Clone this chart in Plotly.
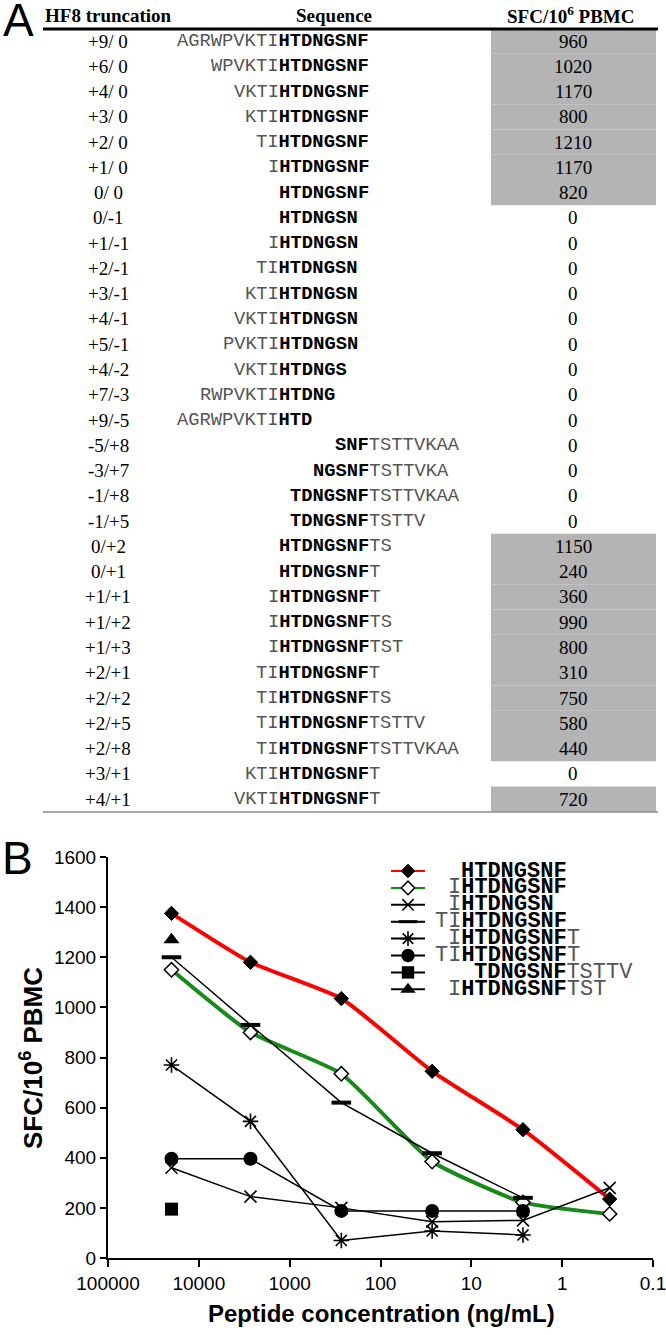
import plotly.graph_objects as go

W, H = 666, 1335

# ---------------- Panel A data ----------------
truncations = ["+9/ 0", "+6/ 0", "+4/ 0", "+3/ 0", "+2/ 0", "+1/ 0", "0/ 0", "0/-1", "+1/-1",
               "+2/-1", "+3/-1", "+4/-1", "+5/-1", "+4/-2", "+7/-3", "+9/-5", "-5/+8", "-3/+7",
               "-1/+8", "-1/+5", "0/+2", "0/+1", "+1/+1", "+1/+2", "+1/+3", "+2/+1", "+2/+2",
               "+2/+5", "+2/+8", "+3/+1", "+4/+1"]
seq_prefix = ["AGRWPVKTI", "WPVKTI", "VKTI", "KTI", "TI", "I", "", "", "I", "TI", "KTI", "VKTI",
              "PVKTI", "VKTI", "RWPVKTI", "AGRWPVKTI", "", "", "", "", "", "", "I", "I", "I",
              "TI", "TI", "TI", "TI", "KTI", "VKTI"]
seq_core = (["HTDNGSNF"] * 7 + ["HTDNGSN"] * 6 +
            ["HTDNGS", "HTDNG", "HTD", "SNF", "NGSNF", "TDNGSNF", "TDNGSNF"] +
            ["HTDNGSNF"] * 11)
seq_suffix = [""] * 16 + ["TSTTVKAA", "TSTTVKA", "TSTTVKAA", "TSTTV", "TS", "T", "T", "TS",
                          "TST", "T", "TS", "TSTTV", "TSTTVKAA", "T", "T"]
sfc = [960, 1020, 1170, 800, 1210, 1170, 820] + [0] * 13 + \
      [1150, 240, 360, 990, 800, 310, 750, 580, 440, 0, 720]

# ---------------- Panel B data ----------------
conc = [20000, 2700, 270, 27, 2.7, 0.3]
s_htdngsnf = [1375, 1180, 1035, 745, 512, 235]
s_ihtdngsnf = [1150, 900, 735, 385, 222, 176]
s_ihtdngsn = [360, 245, 200, 145, 150, 280]
s_tihtdngsnf = [1200, 930, 620, 418, 240]
s_ihtdngsnft = [770, 545, 70, 108, 92]
s_tihtdngsnft = [396, 396, 188, 188, 188]
s_tdngsnftsttv = [195]
s_ihtdngsnftst = [1270]

xtick_vals = [100000, 10000, 1000, 100, 10, 1, 0.1]
xtick_text = ["100000", "10000", "1000", "100", "10", "1", "0.1"]

CORE = "HTDNGSNF"
GRAY_TXT = "#555555"
MONO = "Liberation Mono"


def px(x):
    return x / W


def py(y):
    return 1 - y / H


def seq_html(pre, core, suf):
    t = ""
    if pre:
        t += f'<span style="color:{GRAY_TXT}">{pre}</span>'
    t += f"<b>{core}</b>"
    if suf:
        t += f'<span style="color:{GRAY_TXT}">{suf}</span>'
    return t


fig = go.Figure()
annotations = []
shapes = []

# ---------------- Panel A: table ----------------
row0, row_h = 41.0, 25.27
tbl_left, tbl_right = 43, 658
gray_l, gray_r = 491, 656
col_trunc, col_val = 108, 573
h_x = 278.0
fs_seq = 18.8
adv = 0.6 * fs_seq

annotations.append(dict(x=px(1), y=py(20), xref="paper", yref="paper", text="A",
                        showarrow=False, xanchor="left", yanchor="middle",
                        font=dict(family="Liberation Sans", size=46, color="black")))
hdr_font = dict(family="Liberation Serif", size=19, color="black")
annotations.append(dict(x=px(43), y=py(15), xref="paper", yref="paper",
                        text="<b>HF8 truncation</b>", showarrow=False, xanchor="left",
                        yanchor="middle", font=hdr_font))
annotations.append(dict(x=px(334), y=py(15), xref="paper", yref="paper",
                        text="<b>Sequence</b>", showarrow=False, xanchor="center",
                        yanchor="middle", font=hdr_font))
annotations.append(dict(x=px(571), y=py(15), xref="paper", yref="paper",
                        text="<b>SFC/10<sup>6</sup> PBMC</b>", showarrow=False,
                        xanchor="center", yanchor="middle", font=hdr_font))

shapes.append(dict(type="line", xref="paper", yref="paper", x0=px(tbl_left), x1=px(tbl_right),
                   y0=py(29), y1=py(29), line=dict(color="black", width=3)))
shapes.append(dict(type="line", xref="paper", yref="paper", x0=px(tbl_left), x1=px(tbl_right),
                   y0=py(812), y1=py(812), line=dict(color="#8a8a8a", width=1.5)))

for i, (tr, pre, core, suf, v) in enumerate(zip(truncations, seq_prefix, seq_core,
                                                 seq_suffix, sfc)):
    yc = row0 + i * row_h
    if v > 0:
        shapes.append(dict(type="rect", xref="paper", yref="paper", layer="below",
                           x0=px(gray_l), x1=px(gray_r),
                           y0=py(yc - row_h / 2), y1=py(yc + row_h / 2),
                           fillcolor="#b4b4b4", line=dict(width=0)))
    annotations.append(dict(x=px(col_trunc), y=py(yc), xref="paper", yref="paper", text=tr,
                            showarrow=False, xanchor="center", yanchor="middle",
                            font=dict(family="Liberation Serif", size=19, color="black")))
    off = CORE.find(core)
    x_left = h_x + (off - len(pre)) * adv
    annotations.append(dict(x=px(x_left), y=py(yc), xref="paper", yref="paper",
                            text=seq_html(pre, core, suf), showarrow=False,
                            xanchor="left", yanchor="middle", borderpad=0,
                            font=dict(family=MONO, size=fs_seq, color="black")))
    annotations.append(dict(x=px(col_val), y=py(yc), xref="paper", yref="paper", text=str(v),
                            showarrow=False, xanchor="center", yanchor="middle",
                            font=dict(family="Liberation Serif", size=19, color="black")))

# ---------------- Panel B: dose response ----------------
series = [
    ("", "HTDNGSNF", "", s_htdngsnf, "#ff0000", 4, "diamond", "black", 11, 1, "spline"),
    ("I", "HTDNGSNF", "", s_ihtdngsnf, "#178a17", 4, "diamond", "white", 11, 1.5, "spline"),
    ("I", "HTDNGSN", "", s_ihtdngsn, "black", 1.5, "x-thin", "black", 12, 1.6, "linear"),
    ("TI", "HTDNGSNF", "", s_tihtdngsnf, "black", 1.5, "line-ew", "black", 14, 4, "linear"),
    ("I", "HTDNGSNF", "T", s_ihtdngsnft, "black", 1.5, "asterisk", "black", 13, 1.6, "linear"),
    ("TI", "HTDNGSNF", "T", s_tihtdngsnft, "black", 1.5, "circle", "black", 14, 0, "linear"),
    ("", "TDNGSNF", "TSTTV", s_tdngsnftsttv, "black", 1.5, "square", "black", 13, 0, "linear"),
    ("I", "HTDNGSNF", "TST", s_ihtdngsnftst, "black", 1.5, "triangle-up", "black", 14, 0, "linear"),
]

for pre, core, suf, vals, lc, lw, sym, mc, ms, mlw, shape in series:
    fig.add_trace(go.Scatter(
        x=conc[:len(vals)], y=vals, mode="lines+markers",
        line=dict(color=lc, width=lw, shape=shape, smoothing=0.5),
        marker=dict(symbol=sym, color=mc, size=ms, line=dict(color="black", width=mlw)),
        showlegend=False, name=pre + core + suf, xaxis="x", yaxis="y"))

# manual legend drawn on a full-figure pixel axis
leg_y0, leg_dy = 871, 16.9
leg_l, leg_r = 391, 425
leg_hx = 460
fs_leg = 22
adv_leg = 0.6 * fs_leg
for k, (pre, core, suf, vals, lc, lw, sym, mc, ms, mlw, shape) in enumerate(series):
    yy = leg_y0 + k * leg_dy
    fig.add_trace(go.Scatter(
        x=[leg_l, (leg_l + leg_r) / 2, leg_r], y=[yy, yy, yy], mode="lines",
        line=dict(color=lc, width=2), showlegend=False, hoverinfo="skip",
        xaxis="x2", yaxis="y2"))
    fig.add_trace(go.Scatter(
        x=[(leg_l + leg_r) / 2], y=[yy], mode="markers",
        marker=dict(symbol=sym, color=mc, size=ms * 0.95,
                    line=dict(color="black", width=mlw if mlw < 4 else 3)),
        showlegend=False, hoverinfo="skip", xaxis="x2", yaxis="y2"))
    off = CORE.find(core)
    x_left = leg_hx + (off - len(pre)) * adv_leg
    annotations.append(dict(x=px(x_left), y=py(yy), xref="paper", yref="paper",
                            text=seq_html(pre, core, suf), showarrow=False,
                            xanchor="left", yanchor="middle", borderpad=0,
                            font=dict(family=MONO, size=fs_leg, color="black")))

annotations.append(dict(x=px(0), y=py(858), xref="paper", yref="paper", text="B",
                        showarrow=False, xanchor="left", yanchor="middle",
                        font=dict(family="Liberation Sans", size=46, color="black")))
annotations.append(dict(x=px(381), y=py(1313), xref="paper", yref="paper",
                        text="<b>Peptide concentration (ng/mL)</b>", showarrow=False,
                        xanchor="center", yanchor="middle",
                        font=dict(family="Liberation Sans", size=24, color="black")))
annotations.append(dict(x=px(31), y=py(1058), xref="paper", yref="paper",
                        text="<b>SFC/10<sup>6</sup> PBMC</b>", showarrow=False, textangle=-90,
                        xanchor="center", yanchor="middle",
                        font=dict(family="Liberation Sans", size=26, color="black")))

tick_font = dict(family="Liberation Sans", size=19, color="black")
fig.update_layout(
    width=W, height=H, margin=dict(l=0, r=0, t=0, b=0, pad=0, autoexpand=False),
    paper_bgcolor="white", plot_bgcolor="rgba(0,0,0,0)",
    showlegend=False,
    xaxis=dict(type="log", domain=[px(108), px(653)], range=[5, -1],
               tickvals=xtick_vals, ticktext=xtick_text, ticks="outside", ticklen=7,
               tickwidth=2, tickcolor="black", showline=True, linecolor="black",
               linewidth=2, showgrid=False, zeroline=False, tickfont=tick_font,
               anchor="y", automargin=False, ticklabeloverflow="allow"),
    yaxis=dict(domain=[py(1258), py(857)], range=[0, 1600], dtick=200, ticks="outside",
               ticklen=6, tickwidth=2, tickcolor="black", showline=True, linecolor="black",
               linewidth=2, showgrid=False, zeroline=False, tickfont=tick_font,
               anchor="x", automargin=False, ticklabeloverflow="allow"),
    xaxis2=dict(domain=[0, 1], range=[0, W], visible=False, anchor="y2",
                fixedrange=True, automargin=False),
    yaxis2=dict(domain=[0, 1], range=[H, 0], visible=False, anchor="x2",
                fixedrange=True, automargin=False),
    annotations=annotations, shapes=shapes,
)

fig.write_html(
    "out.html",
    config={"displayModeBar": False, "staticPlot": True},
    post_script="document.body.style.margin='0px';document.body.style.padding='0px';"
                "document.body.style.overflow='hidden';",
)
